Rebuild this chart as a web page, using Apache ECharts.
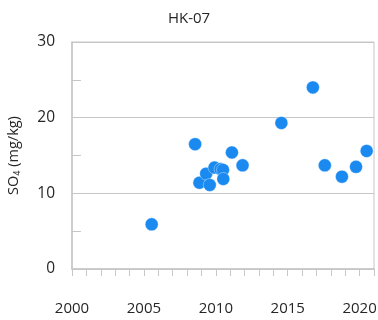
<!DOCTYPE html>
<html>
<head>
<meta charset="utf-8">
<script src="https://cdn.jsdelivr.net/npm/echarts@6/dist/echarts.min.js"></script>
<style>
html,body{margin:0;padding:0;background:#fff;}
#chart{width:378px;height:320px;}
</style>
</head>
<body>
<div id="chart"></div>
<script>
// Sampling year (decimal) and sulfate concentration, HK-07
var years = [2005.54, 2008.56, 2008.86, 2009.33, 2009.58, 2009.91, 2010.33, 2010.5, 2010.52, 2011.12, 2011.86, 2014.56, 2016.75, 2017.58, 2018.77, 2019.75, 2020.49];
var so4 = [5.9, 16.5, 11.4, 12.6, 11.1, 13.4, 13.2, 13.1, 11.9, 15.4, 13.7, 19.3, 24.0, 13.7, 12.2, 13.5, 15.6];
var xTickLabels = [2000, 2005, 2010, 2015, 2020];

var points = years.map(function (y, i) { return [y, so4[i]]; });
var textColor = '#262626';
var lineColor = '#c6c6c6';
var font = 'Open Sans';

var chart = echarts.init(document.getElementById('chart'));
chart.setOption({
  animation: false,
  title: {
    text: 'HK-07',
    left: 'center',
    top: 6,
    textStyle: { fontFamily: font, fontSize: 15, fontWeight: 'normal', color: textColor }
  },
  grid: {
    left: 72, right: 4, top: 42, bottom: 51,
    outerBoundsMode: 'none',
    containLabel: false,
    show: true, borderColor: lineColor, borderWidth: 1
  },
  xAxis: {
    type: 'value', min: 2000, max: 2021, interval: 1,
    axisLine: { show: true, lineStyle: { color: lineColor, width: 1.5 } },
    axisTick: { show: true, inside: false, length: 7, lineStyle: { color: lineColor } },
    splitLine: { show: false },
    axisLabel: {
      margin: 32, fontFamily: font, fontSize: 15, color: textColor,
      formatter: function (v) { return xTickLabels.indexOf(v) >= 0 ? String(v) : ''; }
    }
  },
  yAxis: {
    type: 'value', min: 0, max: 30, interval: 10,
    name: '{a|SO}{s|4}{a| (mg/kg)}',
    nameLocation: 'middle', nameGap: 50, nameRotate: 90,
    nameTextStyle: {
      rich: {
        a: { fontFamily: font, fontSize: 14.5, color: textColor },
        s: { fontFamily: font, fontSize: 9, color: textColor, verticalAlign: 'bottom', padding: [7, 0, 0, 0] }
      }
    },
    axisLine: { show: true, lineStyle: { color: lineColor, width: 1.5 } },
    axisTick: { show: false, inside: true },
    minorTick: { show: true, splitNumber: 2, length: 9, lineStyle: { color: lineColor } },
    splitLine: { show: true, lineStyle: { color: lineColor, width: 1 } },
    axisLabel: { margin: 17, fontFamily: font, fontSize: 15.5, color: textColor }
  },
  series: [{
    type: 'scatter',
    data: points,
    symbolSize: 13,
    itemStyle: { color: '#1a8af0', borderColor: 'rgba(255,255,255,0.6)', borderWidth: 0.6, opacity: 1 }
  }]
});
</script>
</body>
</html>
